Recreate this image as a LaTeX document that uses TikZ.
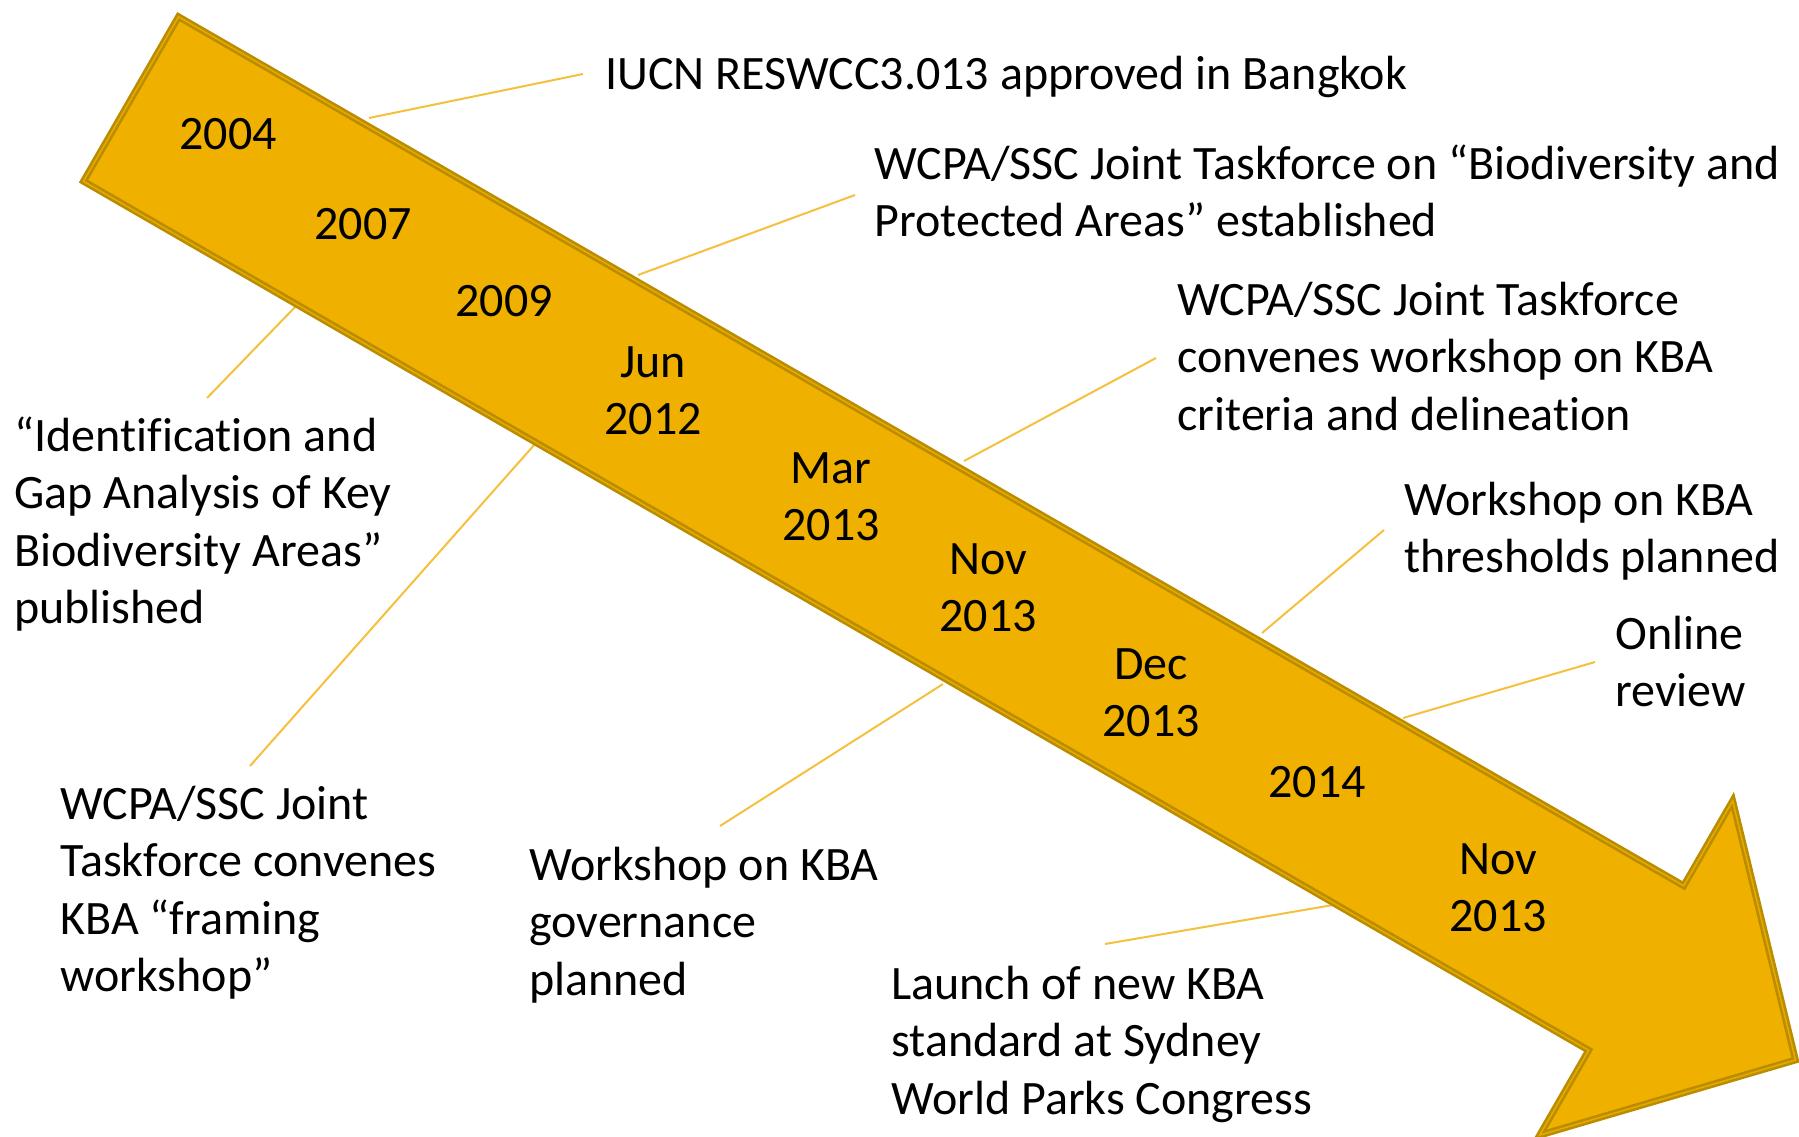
\documentclass[tikz,border=0pt]{standalone}
\usepackage{fontspec}
\setmainfont{Carlito}[Ligatures=NoCommon]

\definecolor{arrowFill}{RGB}{240,176,0}
\definecolor{arrowEdge}{RGB}{186,140,0}
\definecolor{leaderLine}{RGB}{245,192,60}

\begin{document}
\begin{tikzpicture}[x=0.5pt,y=-0.5pt,
  year/.style={anchor=base, align=center, inner sep=0pt, font=\fontsize{24}{28.8}\selectfont},
  note/.style={anchor=base west, align=left, inner sep=0pt, font=\fontsize{24}{28.8}\selectfont},
  leader/.style={draw=leaderLine, line width=1pt},
  arrowbody/.style={fill=arrowFill, draw=arrowEdge, line width=1.3pt, double=arrowFill!80!arrowEdge, double distance=0.8pt}]
% Parameters
\def\tailX{131}
\def\tailY{99}
\def\arrowAngle{30}
\def\arrowLength{1922}
\def\shaftWidth{190}
\def\headWidth{386}
\def\headLength{184}
\def\lineSkip{57.6} % one text line; multi-line nodes sit on their last baseline

\pgfmathsetmacro\baseLength{\arrowLength-\headLength}
\pgfmathsetmacro\dirX{cos(\arrowAngle)}
\pgfmathsetmacro\dirY{sin(\arrowAngle)}
\pgfmathsetmacro\nrmX{\dirY}
\pgfmathsetmacro\nrmY{-\dirX}

\useasboundingbox (0,0) rectangle (1799,1136);

% Leader lines (arrow end / text end)
\coordinate (iucnA) at (369,118);          \coordinate (iucnB) at (583,74);
\coordinate (taskforceA) at (638,275);     \coordinate (taskforceB) at (855,195);
\coordinate (criteriaA) at (964,461);      \coordinate (criteriaB) at (1156,358);
\coordinate (thresholdsA) at (1262,633);   \coordinate (thresholdsB) at (1384,530);
\coordinate (reviewA) at (1403,718);       \coordinate (reviewB) at (1595,662);
\coordinate (gapA) at (298,304);           \coordinate (gapB) at (207,398);
\coordinate (framingA) at (535,444);       \coordinate (framingB) at (250,766);
\coordinate (governanceA) at (943,684);    \coordinate (governanceB) at (720,826);
\coordinate (launchA) at (1333,905);       \coordinate (launchB) at (1105,944);
\foreach \n in {iucn,taskforce,criteria,thresholds,review,gap,framing,governance,launch}
{
\draw[leader] (\n A) -- (\n B);
}

% Arrow
\coordinate (tailTop) at (\tailX+0.5*\shaftWidth*\nrmX, \tailY+0.5*\shaftWidth*\nrmY);
\coordinate (notchTop) at (\tailX+\baseLength*\dirX+0.5*\shaftWidth*\nrmX, \tailY+\baseLength*\dirY+0.5*\shaftWidth*\nrmY);
\coordinate (headTop) at (\tailX+\baseLength*\dirX+0.5*\headWidth*\nrmX, \tailY+\baseLength*\dirY+0.5*\headWidth*\nrmY);
\coordinate (tip) at (\tailX+\arrowLength*\dirX, \tailY+\arrowLength*\dirY);
\coordinate (headBottom) at (\tailX+\baseLength*\dirX-0.5*\headWidth*\nrmX, \tailY+\baseLength*\dirY-0.5*\headWidth*\nrmY);
\coordinate (notchBottom) at (\tailX+\baseLength*\dirX-0.5*\shaftWidth*\nrmX, \tailY+\baseLength*\dirY-0.5*\shaftWidth*\nrmY);
\coordinate (tailBottom) at (\tailX-0.5*\shaftWidth*\nrmX, \tailY-0.5*\shaftWidth*\nrmY);
\draw[arrowbody] (tailTop) -- (notchTop) -- (headTop) -- (tip) -- (headBottom) -- (notchBottom) -- (tailBottom) -- cycle;

% Dates on the arrow
\node[year] (y2004) at (228,149) {2004};
\node[year] (y2007) at (363,239) {2007};
\node[year] (y2009) at (504,316) {2009};
\node[year] (jun2012) at (653,377+\lineSkip) {Jun\\2012};
\node[year] (mar2013) at (831,483+\lineSkip) {Mar\\2013};
\node[year] (nov2013) at (988,574+\lineSkip) {Nov\\2013};
\node[year] (dec2013) at (1151,679+\lineSkip) {Dec\\2013};
\node[year] (y2014) at (1317,797) {2014};
\node[year] (novLast) at (1498,874+\lineSkip) {Nov\\2013};

% Events above the arrow
\node[note] (iucn) at (605,89) {IUCN RESWCC3.013 approved in Bangkok};
\node[note] (taskforce) at (874,179+\lineSkip) {WCPA/SSC Joint Taskforce on “Biodiversity and\\Protected Areas” established};
\node[note] (criteria) at (1177,315+2*\lineSkip) {WCPA/SSC Joint Taskforce\\convenes workshop on KBA\\criteria and delineation};
\node[note] (thresholds) at (1404,515+\lineSkip) {Workshop on KBA\\thresholds planned};
\node[note] (review) at (1615,649+\lineSkip) {Online\\review};

% Events below the arrow
\node[note] (gap) at (14,451+3*\lineSkip) {“Identification and\\Gap Analysis of Key\\Biodiversity Areas”\\published};
\node[note] (framing) at (60,819+3*\lineSkip) {WCPA/SSC Joint\\Taskforce convenes\\KBA “framing\\workshop”};
\node[note] (governance) at (529,880+2*\lineSkip) {Workshop on KBA\\governance\\planned};
\node[note] (launch) at (891,999+2*\lineSkip) {Launch of new KBA\\standard at Sydney\\World Parks Congress};

\end{tikzpicture}
\end{document}
